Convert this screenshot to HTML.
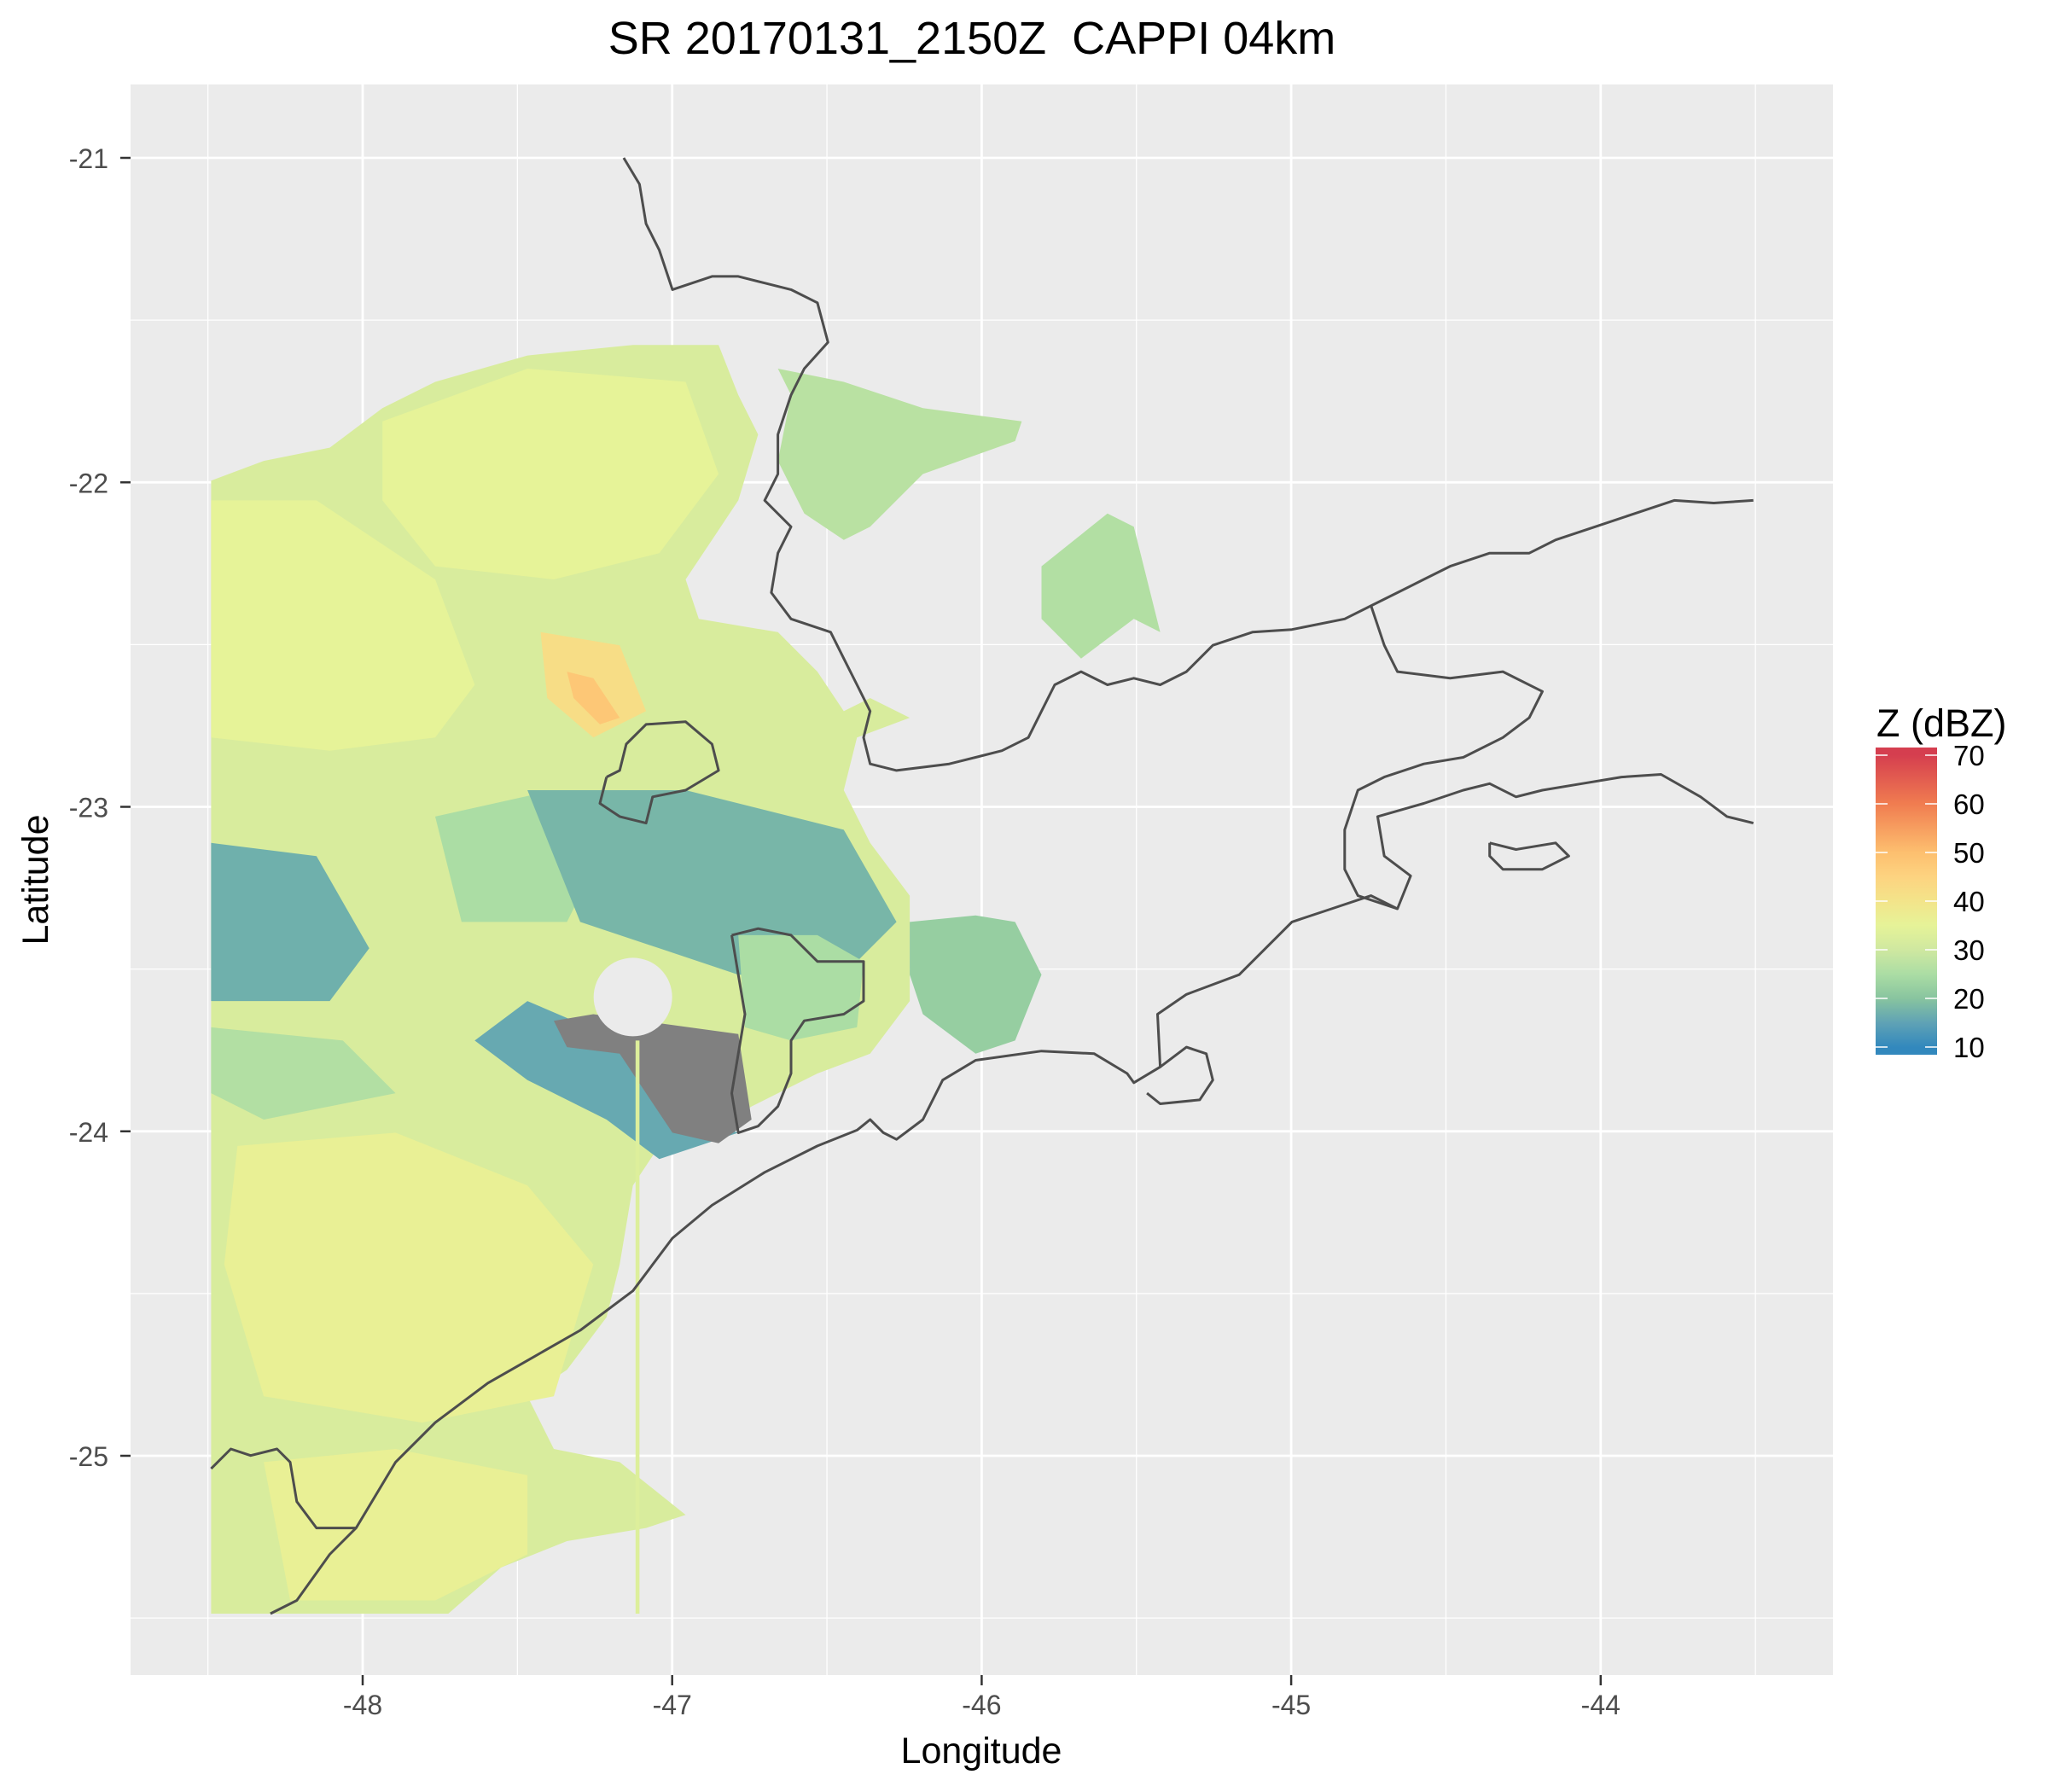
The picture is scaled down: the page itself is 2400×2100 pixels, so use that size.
<!DOCTYPE html>
<html><head><meta charset="utf-8"><style>
html,body{margin:0;padding:0;background:#fff}
svg{display:block}
text{font-family:"Liberation Sans",Arial,sans-serif}
</style></head><body>
<svg id="chart" xmlns="http://www.w3.org/2000/svg" width="2400" height="2100" viewBox="0 0 2400 2100">
<text x="1139" y="63" font-size="54" text-anchor="middle" fill="#000" xml:space="preserve">SR 20170131_2150Z&#160; CAPPI 04km</text>
<rect x="153" y="99" width="1995" height="1864" fill="#ebebeb"/>
<g id="grid"></g>
<g id="clipwrap"><clipPath id="pc"><rect x="153" y="99" width="1995" height="1864"/></clipPath></g>
<g id="radar" clip-path="url(#pc)"></g>
<g id="map" clip-path="url(#pc)" fill="none" stroke="#4d4d4d" stroke-width="3" stroke-linejoin="round"></g>
<g id="axes"></g>
<text x="1150" y="2066" font-size="43" text-anchor="middle" fill="#000">Longitude</text>
<text transform="translate(56,1031) rotate(-90)" font-size="43" text-anchor="middle" fill="#000">Latitude</text>
<g id="legend">
<text x="2199" y="863" font-size="45" fill="#000">Z (dBZ)</text>
<defs><linearGradient id="lg" x1="0" y1="1" x2="0" y2="0"></linearGradient></defs>
<rect x="2198" y="876" width="72" height="360" fill="url(#lg)"/>
</g>
</svg>
<script>
const lonTicks = [-48,-47,-46,-45,-44];
const latTicks = [-21,-22,-23,-24,-25];
const lonMinor = [-48.5,-47.5,-46.5,-45.5,-44.5,-43.5];
const latMinor = [-21.5,-22.5,-23.5,-24.5,-25.5];
const legendTicks = [10,20,30,40,50,60,70];
const colorStops = [[10,"#3288bd"],[15,"#5fa2b5"],[20,"#88c49f"],[25,"#abdda4"],[30,"#cfe8a0"],[35,"#e6f398"],[40,"#f3e48a"],[45,"#fdd380"],[50,"#fdbf6f"],[60,"#f07c50"],[70,"#d53e4f"]];
// reference-frame geo digitisation (converted to lon/lat below)
const R = (dx,dy)=>[-48+(dx-275)/234.8, -21-(dy-120)/246.3];
const conv = a=>a.map(p=>R(p[0],p[1]));
// radar echo regions: [value dBZ, polygon lon/lat]
const echoValues = [32, 27, 26, 22, 35, 35, 36, 36, 25, 18, 16, 17, 42, 48, 25, 26];
const echoShapes = [
 conv([[160,365],[200,350],[250,340],[290,310],[330,290],[400,270],[480,262],[545,262],[560,300],[575,330],[560,380],[540,410],[520,440],[530,470],[590,480],[620,510],[640,540],[660,530],[690,545],[650,560],[640,600],[660,640],[690,680],[690,760],[660,800],[620,815],[570,840],[540,860],[500,870],[480,900],[470,960],[460,1000],[430,1040],[400,1060],[420,1100],[470,1110],[520,1150],[490,1160],[430,1170],[380,1190],[340,1225],[160,1225]]),
 conv([[590,280],[640,290],[700,310],[775,320],[770,335],[700,360],[660,400],[640,410],[610,390],[590,350],[600,300]]),
 conv([[790,430],[840,390],[860,400],[880,480],[860,470],[820,500],[790,470]]),
 conv([[690,700],[740,695],[770,700],[790,740],[770,790],[740,800],[700,770],[690,740]]),
 conv([[290,320],[400,280],[520,290],[545,360],[500,420],[420,440],[330,430],[290,380]]),
 conv([[160,380],[240,380],[330,440],[360,520],[330,560],[250,570],[160,560]]),
 conv([[180,870],[300,860],[400,900],[450,960],[420,1060],[320,1080],[200,1060],[170,960]]),
 conv([[200,1110],[300,1100],[400,1120],[400,1180],[330,1215],[220,1215]]),
 conv([[330,620],[420,600],[460,640],[430,700],[350,700]]),
 conv([[400,600],[520,600],[640,630],[680,700],[640,740],[560,740],[500,720],[440,700]]),
 conv([[400,760],[470,790],[530,850],[560,860],[500,880],[460,850],[400,820],[360,790]]),
 conv([[160,640],[240,650],[280,720],[250,760],[160,760]]),
 conv([[410,480],[470,490],[490,540],[450,560],[415,530]]),
 conv([[430,510],[450,515],[470,545],[455,550],[435,530]]),
 conv([[560,710],[620,710],[655,730],[650,780],[600,790],[565,780]]),
 conv([[160,780],[260,790],[300,830],[200,850],[160,830]])
];
const clutterShape = conv([[420,775],[450,770],[560,785],[570,850],[545,868],[510,860],[490,830],[470,800],[430,795]]);
const holeCenter = R(480,757);
const stripe = conv([[482,790],[485,790],[485,1225],[482,1225]]);
// map outlines
const borders = [
 conv([[473,120],[485,140],[490,170],[500,190],[510,220],[540,210],[560,210],[580,215],[600,220],[620,230],[628,260],[610,280],[600,300],[590,330],[590,360],[580,380],[600,400],[590,420],[585,450],[600,470],[630,480],[640,500],[650,520],[660,540],[655,560],[660,580],[680,585],[720,580],[740,575],[760,570],[780,560],[790,540],[800,520],[820,510],[840,520],[860,515],[880,520],[900,510],[920,490],[950,480],[980,478],[1020,470],[1040,460],[1060,450],[1080,440],[1100,430],[1130,420],[1160,420],[1180,410],[1210,400],[1240,390],[1270,380],[1300,382],[1330,380]]),
 conv([[1040,460],[1050,490],[1060,510],[1100,515],[1140,510],[1170,525],[1160,545],[1140,560],[1110,575],[1080,580],[1050,590],[1030,600],[1020,630],[1020,660],[1030,680],[1060,690],[1070,665],[1050,650],[1045,620],[1080,610],[1110,600],[1130,595],[1150,605],[1170,600],[1200,595],[1230,590],[1260,588],[1290,605],[1310,620],[1330,625]]),
 conv([[205,1225],[225,1215],[250,1180],[270,1160],[300,1110],[330,1080],[370,1050],[405,1030],[440,1010],[480,980],[510,940],[540,915],[580,890],[620,870],[650,858],[660,850],[670,860],[680,865],[700,850],[715,820],[740,805],[790,798],[830,800],[855,815],[860,822],[880,810],[878,770],[900,755],[940,740],[960,720],[980,700],[1010,690],[1040,680],[1060,690]]),
 conv([[880,810],[900,795],[915,800],[920,820],[910,835],[880,838],[870,830]]),
 conv([[460,590],[455,610],[470,620],[490,625],[495,605],[520,600],[545,585],[540,565],[520,548],[490,550],[475,565],[470,585],[460,590]]),
 conv([[555,710],[575,705],[600,710],[620,730],[655,730],[655,760],[640,770],[610,775],[600,790],[600,815],[590,840],[575,855],[560,860],[555,830],[560,800],[565,770],[560,740],[555,710]]),
 conv([[160,1115],[175,1100],[190,1105],[210,1100],[220,1110],[225,1140],[240,1160],[260,1160],[270,1160]]),
 conv([[1130,640],[1150,645],[1180,640],[1190,650],[1170,660],[1140,660],[1130,650],[1130,640]])
];
const NS="http://www.w3.org/2000/svg";
const xS = lon => 425 + (lon+48)*362.7;
const yS = lat => 185 + (-21-lat)*380.25;
function hex(c){return [1,3,5].map(i=>parseInt(c.substr(i,2),16));}
function color(v){
 if(v<=colorStops[0][0]) return colorStops[0][1];
 for(let i=1;i<colorStops.length;i++){ if(v<=colorStops[i][0]){const [a,ca]=colorStops[i-1],[b,cb]=colorStops[i];const t=(v-a)/(b-a);const A=hex(ca),B=hex(cb);return "rgb("+A.map((x,k)=>Math.round(x+(B[k]-x)*t)).join(",")+")";}}
 return colorStops[colorStops.length-1][1];
}
function mk(tag,attrs,parent){const e=document.createElementNS(NS,tag);for(const k in attrs)e.setAttribute(k,attrs[k]);parent.appendChild(e);return e;}
const pts = poly => poly.map(p=>xS(p[0]).toFixed(1)+","+yS(p[1]).toFixed(1)).join(" ");
const grid=document.getElementById('grid');
lonMinor.forEach(v=>{const l=mk('line',{x1:xS(v),x2:xS(v),y1:99,y2:1963,stroke:'#fff','stroke-width':1.3},grid);
 
 });
latMinor.forEach(v=>{const l=mk('line',{x1:153,x2:2148,y1:yS(v),y2:yS(v),stroke:'#fff','stroke-width':1.3},grid);
 
 });
lonTicks.forEach(v=>{const l=mk('line',{x1:xS(v),x2:xS(v),y1:99,y2:1963,stroke:'#fff','stroke-width':2.8},grid);
 
 });
latTicks.forEach(v=>{const l=mk('line',{x1:153,x2:2148,y1:yS(v),y2:yS(v),stroke:'#fff','stroke-width':2.8},grid);
 
 });
const radar=document.getElementById('radar');
echoShapes.forEach((s,i)=>{const p=mk('polygon',{points:pts(s),fill:color(echoValues[i])},radar);
 
 });
const cl=mk('polygon',{points:pts(clutterShape),fill:'#808080'},radar);


const hole=mk('circle',{cx:xS(holeCenter[0]),cy:yS(holeCenter[1]),r:46,fill:'#ebebeb'},radar);


const st=mk('polygon',{points:pts(stripe),fill:color(33)},radar);


const map=document.getElementById('map');
borders.forEach(b=>{const p=mk('polyline',{points:pts(b)},map);
 
 });
const axes=document.getElementById('axes');
lonTicks.forEach(v=>{const t=mk('line',{x1:xS(v),x2:xS(v),y1:1963,y2:1975,stroke:'#333','stroke-width':2.5},axes);
 
 
 const tx=mk('text',{x:xS(v),y:2009,'font-size':32,'text-anchor':'middle',fill:'#4d4d4d'},axes);tx.textContent=String(v);
 
 });
latTicks.forEach(v=>{const t=mk('line',{x1:141,x2:153,y1:yS(v),y2:yS(v),stroke:'#333','stroke-width':2.5},axes);
 
 
 const tx=mk('text',{x:127,y:yS(v)+12,'font-size':32,'text-anchor':'end',fill:'#4d4d4d'},axes);tx.textContent=String(v);
 
 });
const lg=document.getElementById('lg');
const lvals=[8.5,10,15,20,25,30,35,40,45,50,60,70,71.5];
lvals.forEach(v=>mk('stop',{offset:((v-8.5)/63),'stop-color':color(v)},lg));
const leg=document.getElementById('legend');
const ly=v=>1227-(v-10)*(1227-885)/60;
legendTicks.forEach(v=>{
 const a=mk('line',{x1:2198,x2:2212,y1:ly(v),y2:ly(v),stroke:'#fff','stroke-width':1.5},leg);
 
 
 const b=mk('line',{x1:2256,x2:2270,y1:ly(v),y2:ly(v),stroke:'#fff','stroke-width':1.5},leg);
 
 
 const t=mk('text',{x:2289,y:ly(v)+12,'font-size':33,fill:'#000'},leg);t.textContent=String(v);
 
 
});
</script>
</body></html>
